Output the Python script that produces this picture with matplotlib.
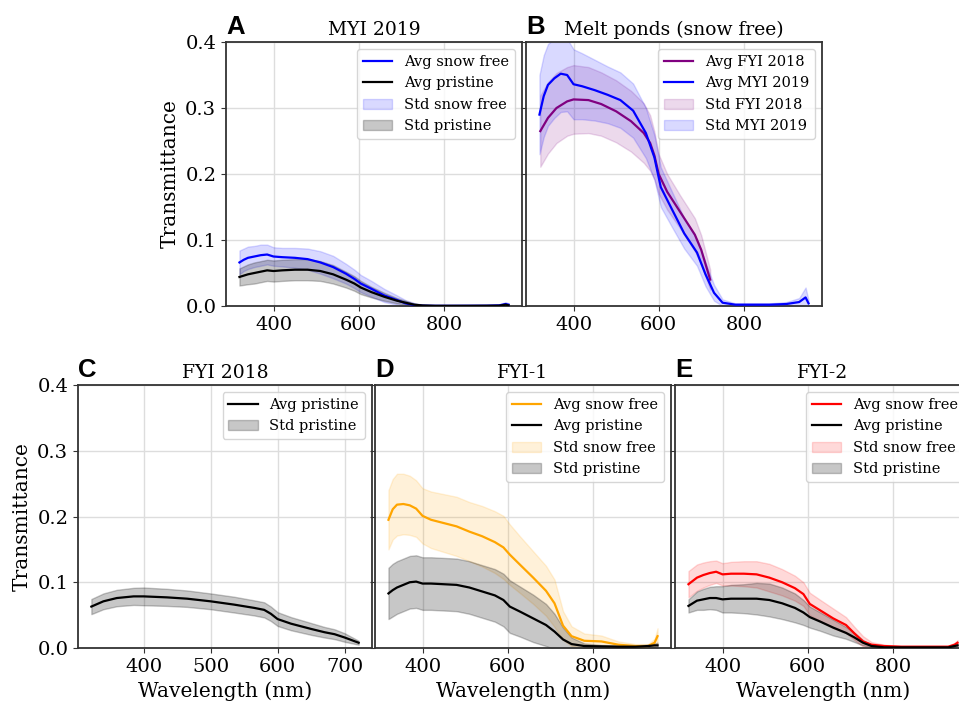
import matplotlib
matplotlib.use("Agg")
import numpy as np
import matplotlib.pyplot as plt

plt.rcParams["font.family"] = "DejaVu Serif"
plt.rcParams["axes.unicode_minus"] = False

# wavelength grid (nm) for the 2019 / FYI-1 / FYI-2 spectra
WL = [320, 330, 340, 355, 370, 385, 400, 420, 450, 480, 510, 540, 570, 590,
      605, 630, 660, 690, 710, 730, 750, 780, 820, 860, 900, 930, 945, 952]
# FYI 2018 spectra only go up to ~720 nm
WL_FYI18 = [322, 340, 360, 385, 400, 435, 465, 500, 535, 565, 580, 590, 600,
            620, 650, 670, 685, 700, 721]

# --- MYI 2019 ---
myi_snowfree_avg = [0.066, 0.070, 0.073, 0.075, 0.077, 0.078, 0.075, 0.074, 0.073, 0.071,
                    0.066, 0.059, 0.049, 0.041, 0.034, 0.026, 0.016, 0.009, 0.004, 0.0015,
                    0.0005, 0.0003, 0.0003, 0.0004, 0.0005, 0.001, 0.003, 0.002]
myi_snowfree_std = [0.018, 0.017, 0.017, 0.016, 0.016, 0.015, 0.014, 0.014, 0.015, 0.016,
                    0.017, 0.017, 0.015, 0.014, 0.013, 0.012, 0.010, 0.007, 0.005, 0.003,
                    0.0015, 0.0008, 0.0008, 0.0008, 0.0008, 0.001, 0.003, 0.002]
myi_pristine_avg = [0.044, 0.046, 0.048, 0.050, 0.052, 0.054, 0.053, 0.054, 0.055, 0.055,
                    0.053, 0.048, 0.040, 0.034, 0.028, 0.021, 0.014, 0.008, 0.005, 0.002,
                    0.0008, 0.0003, 0.0003, 0.0003, 0.0004, 0.0005, 0.002, 0.001]
myi_pristine_std = [0.013, 0.014, 0.015, 0.016, 0.016, 0.016, 0.016, 0.016, 0.016, 0.016,
                    0.015, 0.014, 0.012, 0.011, 0.010, 0.008, 0.006, 0.004, 0.003, 0.002,
                    0.001, 0.0005, 0.0005, 0.0005, 0.0005, 0.0005, 0.001, 0.001]

# --- melt ponds ---
pond_myi_avg = [0.290, 0.318, 0.335, 0.345, 0.352, 0.350, 0.336, 0.333, 0.327, 0.320,
                0.312, 0.296, 0.262, 0.225, 0.180, 0.148, 0.110, 0.081, 0.048, 0.020,
                0.005, 0.002, 0.002, 0.002, 0.003, 0.006, 0.013, 0.004]
pond_myi_std = [0.060, 0.062, 0.062, 0.060, 0.058, 0.055, 0.053, 0.050, 0.046, 0.043,
                0.042, 0.041, 0.038, 0.034, 0.030, 0.027, 0.023, 0.020, 0.018, 0.012,
                0.005, 0.002, 0.002, 0.002, 0.003, 0.006, 0.015, 0.005]
pond_fyi_avg = [0.265, 0.285, 0.300, 0.310, 0.313, 0.312, 0.306, 0.295, 0.280, 0.262,
                0.247, 0.228, 0.200, 0.173, 0.143, 0.123, 0.108, 0.085, 0.040]
pond_fyi_std = [0.054, 0.054, 0.053, 0.052, 0.052, 0.050, 0.048, 0.047, 0.046, 0.045,
                0.042, 0.036, 0.030, 0.027, 0.025, 0.025, 0.025, 0.022, 0.015]

# --- FYI 2018 pristine ---
fyi18_pristine_avg = [0.063, 0.071, 0.076, 0.0785, 0.0785, 0.077, 0.075, 0.071, 0.066, 0.061,
                      0.058, 0.052, 0.044, 0.037, 0.029, 0.024, 0.021, 0.016, 0.008]
fyi18_pristine_std = [0.0115, 0.012, 0.0125, 0.013, 0.0135, 0.013, 0.0125, 0.012, 0.012, 0.0115,
                      0.0115, 0.011, 0.0105, 0.010, 0.009, 0.008, 0.0075, 0.0065, 0.003]

# --- FYI-1 ---
fyi1_snowfree_avg = [0.195, 0.211, 0.218, 0.219, 0.217, 0.212, 0.201, 0.195, 0.190, 0.185,
                     0.177, 0.170, 0.161, 0.153, 0.142, 0.126, 0.107, 0.087, 0.068, 0.034,
                     0.018, 0.011, 0.010, 0.005, 0.003, 0.003, 0.008, 0.018]
fyi1_snowfree_std = [0.045, 0.046, 0.047, 0.046, 0.045, 0.043, 0.042, 0.043, 0.044, 0.045,
                     0.045, 0.046, 0.047, 0.048, 0.046, 0.043, 0.040, 0.038, 0.036, 0.022,
                     0.015, 0.011, 0.009, 0.005, 0.003, 0.003, 0.006, 0.012]
fyi1_pristine_avg = [0.083, 0.088, 0.092, 0.096, 0.100, 0.101, 0.098, 0.098, 0.097, 0.096,
                     0.092, 0.086, 0.080, 0.073, 0.063, 0.055, 0.045, 0.035, 0.025, 0.013,
                     0.006, 0.003, 0.0025, 0.002, 0.002, 0.003, 0.004, 0.004]
fyi1_pristine_std = [0.039, 0.040, 0.040, 0.040, 0.040, 0.040, 0.040, 0.040, 0.040, 0.040,
                     0.040, 0.040, 0.040, 0.040, 0.040, 0.038, 0.036, 0.032, 0.027, 0.018,
                     0.010, 0.004, 0.002, 0.002, 0.002, 0.002, 0.003, 0.004]

# --- FYI-2 ---
fyi2_snowfree_avg = [0.097, 0.102, 0.107, 0.111, 0.114, 0.116, 0.112, 0.113, 0.113, 0.112,
                     0.107, 0.100, 0.091, 0.082, 0.067, 0.057, 0.045, 0.035, 0.022, 0.010,
                     0.005, 0.003, 0.002, 0.002, 0.002, 0.002, 0.005, 0.008]
fyi2_snowfree_std = [0.020, 0.020, 0.020, 0.019, 0.018, 0.017, 0.017, 0.018, 0.019, 0.020,
                     0.021, 0.020, 0.019, 0.018, 0.017, 0.016, 0.015, 0.012, 0.010, 0.008,
                     0.004, 0.002, 0.001, 0.001, 0.001, 0.001, 0.003, 0.004]
fyi2_pristine_avg = [0.064, 0.068, 0.072, 0.074, 0.076, 0.076, 0.074, 0.075, 0.075, 0.075,
                     0.073, 0.068, 0.061, 0.054, 0.047, 0.040, 0.031, 0.023, 0.016, 0.008,
                     0.003, 0.001, 0.001, 0.001, 0.001, 0.001, 0.003, 0.004]
fyi2_pristine_std = [0.010, 0.012, 0.014, 0.016, 0.017, 0.018, 0.020, 0.021, 0.022, 0.024,
                     0.025, 0.024, 0.022, 0.019, 0.016, 0.014, 0.012, 0.009, 0.007, 0.004,
                     0.002, 0.001, 0.001, 0.001, 0.001, 0.001, 0.002, 0.002]


def spectrum(ax, wl, avg, std, color, alpha, name):
    avg = np.asarray(avg)
    std = np.asarray(std)
    fill = ax.fill_between(wl, avg - std, avg + std, color=color, alpha=alpha,
                           zorder=2, label="Std " + name)
    line, = ax.plot(wl, avg, color=color, lw=1.6, zorder=3, label="Avg " + name)
    return line, fill


def style_axes(ax, letter, title, ylabel=False, xticks=(400, 600, 800)):
    ax.set_ylim(0, 0.4)
    ax.set_yticks([0.0, 0.1, 0.2, 0.3, 0.4])
    ax.set_xticks(xticks)
    ax.grid(True, color="#dddddd", lw=1.0, zorder=0)
    ax.set_axisbelow(True)
    for sp in ax.spines.values():
        sp.set_color("#333333")
        sp.set_linewidth(1.3)
    ax.tick_params(labelsize=14, length=3.5, color="#333333")
    if ylabel:
        ax.set_ylabel("Transmittance", fontsize=14.5)
    else:
        ax.tick_params(labelleft=False)
    ax.set_title(title, fontsize=13.5, pad=5)
    ax.text(0.0, 1.03, letter, transform=ax.transAxes, ha="left", va="baseline",
            fontsize=18.5, fontweight="bold", family="Liberation Sans")


def legend(ax, lines, fills):
    ax.legend(handles=list(lines) + list(fills), loc="upper right", fontsize=10.5,
              framealpha=0.8, edgecolor="#cccccc", fancybox=True)


fig = plt.figure(figsize=(9.59, 7.02), dpi=100)

W, H = 959, 702
def box(x0, x1, y0, y1):
    return [x0 / W, 1 - y1 / H, (x1 - x0) / W, (y1 - y0) / H]

axA = fig.add_axes(box(226, 522, 42, 306))
axB = fig.add_axes(box(526, 822, 42, 306))
axC = fig.add_axes(box(78, 372, 385, 648))
axD = fig.add_axes(box(375, 671, 385, 648))
axE = fig.add_axes(box(675, 971, 385, 648))

# A: MYI 2019
l1, f1 = spectrum(axA, WL, myi_snowfree_avg, myi_snowfree_std, "blue", 0.15, "snow free")
l2, f2 = spectrum(axA, WL, myi_pristine_avg, myi_pristine_std, "black", 0.22, "pristine")
style_axes(axA, "A", "MYI 2019", ylabel=True)
legend(axA, [l1, l2], [f1, f2])

# B: melt ponds
l1, f1 = spectrum(axB, WL_FYI18, pond_fyi_avg, pond_fyi_std, "purple", 0.15, "FYI 2018")
l2, f2 = spectrum(axB, WL, pond_myi_avg, pond_myi_std, "blue", 0.15, "MYI 2019")
style_axes(axB, "B", "Melt ponds (snow free)")
legend(axB, [l1, l2], [f1, f2])

# C: FYI 2018
l1, f1 = spectrum(axC, WL_FYI18, fyi18_pristine_avg, fyi18_pristine_std, "black", 0.22, "pristine")
style_axes(axC, "C", "FYI 2018", ylabel=True, xticks=(400, 500, 600, 700))
axC.set_xlabel("Wavelength (nm)", fontsize=14.5)
legend(axC, [l1], [f1])

# D: FYI-1
l1, f1 = spectrum(axD, WL, fyi1_snowfree_avg, fyi1_snowfree_std, "orange", 0.15, "snow free")
l2, f2 = spectrum(axD, WL, fyi1_pristine_avg, fyi1_pristine_std, "black", 0.22, "pristine")
style_axes(axD, "D", "FYI-1")
axD.set_xlabel("Wavelength (nm)", fontsize=14.5)
legend(axD, [l1, l2], [f1, f2])

# E: FYI-2
l1, f1 = spectrum(axE, WL, fyi2_snowfree_avg, fyi2_snowfree_std, "red", 0.15, "snow free")
l2, f2 = spectrum(axE, WL, fyi2_pristine_avg, fyi2_pristine_std, "black", 0.22, "pristine")
style_axes(axE, "E", "FYI-2")
axE.set_xlabel("Wavelength (nm)", fontsize=14.5)
legend(axE, [l1, l2], [f1, f2])

fig.savefig("out.png", dpi=100)
